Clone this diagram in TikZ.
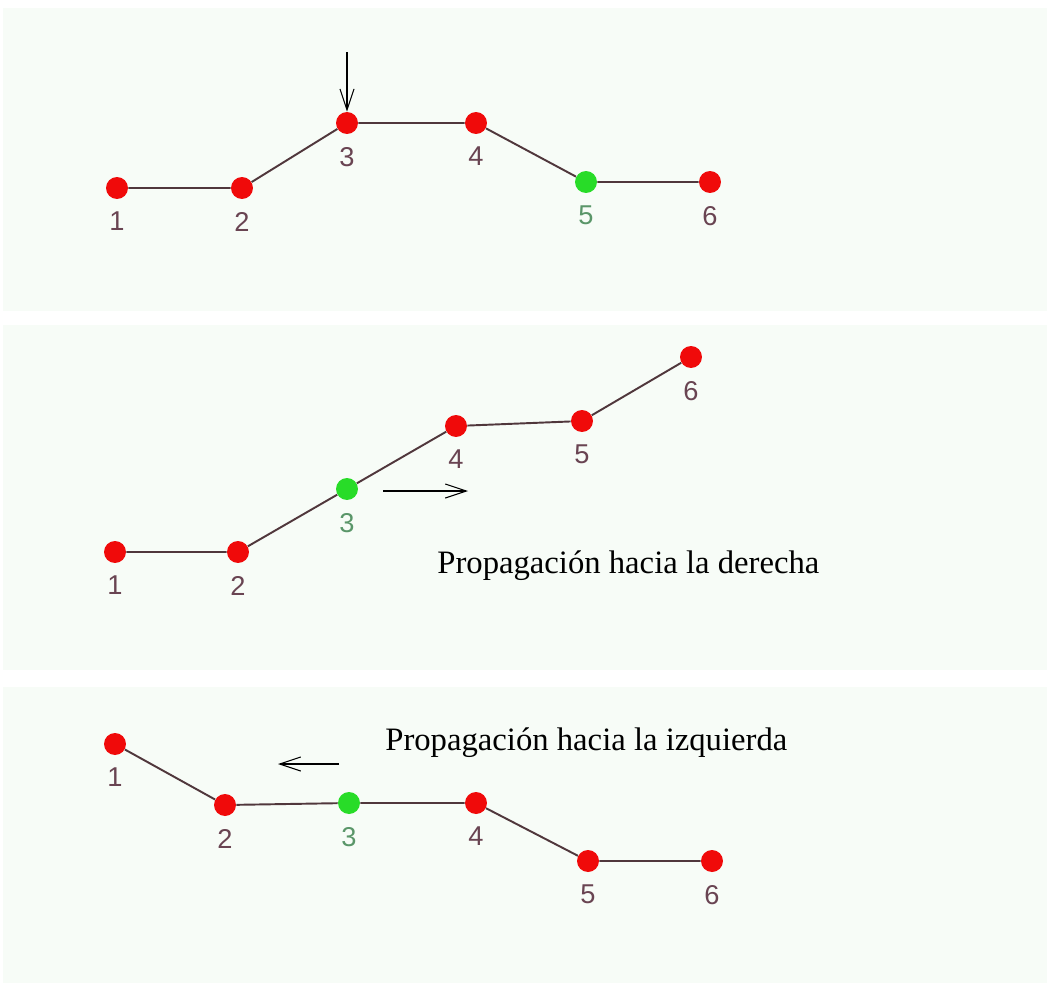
\documentclass[tikz,border=0pt]{standalone}
\usepackage{fontspec}
\setmainfont{Liberation Serif}
\setsansfont{Liberation Sans}
\usepackage{tikz}
\usetikzlibrary{arrows.meta,positioning}
\definecolor{panelbg}{RGB}{247,252,247}
\definecolor{dotred}{RGB}{240,10,10}
\definecolor{dotgreen}{RGB}{40,220,40}
\definecolor{linkcol}{RGB}{80,55,60}
\definecolor{numred}{RGB}{105,68,82}
\definecolor{numgreen}{RGB}{90,150,105}

\begin{document}
\begin{tikzpicture}[
      x=0.02cm, y=-0.02cm,
      panel/.style={fill=panelbg, draw=none},
      dot/.style={circle, fill=dotred, inner sep=0pt, minimum size=12.5pt},
      gdot/.style={dot, fill=dotgreen},
      num/.style={font=\sffamily\fontsize{15.5}{16}\selectfont, text=numred, inner sep=1pt},
      gnum/.style={num, text=numgreen},
      every label/.style={num},
      label distance=6pt,
      link/.style={draw=linkcol, line width=1.1pt},
      arr/.style={-{Straight Barb[length=12pt,width=8pt]}, line width=0.6pt, black},
      caption/.style={font=\fontsize{18.6}{22}\selectfont, anchor=base west, inner sep=0pt},
    ]
    \useasboundingbox (0,0) rectangle (1047,985);

    % Panels
    \fill[panel] (3,8)   rectangle (1047,311);
    \fill[panel] (3,325) rectangle (1047,670);
    \fill[panel] (3,687) rectangle (1047,983);

    % Panel 1: pulse arrives at node 3
    \node[dot,  label=below:1] (a1) at (117,188) {};
    \node[dot,  label=below:2] (a2) at (242,188) {};
    \node[dot,  label=below:3] (a3) at (347,123) {};
    \node[dot,  label=below:4] (a4) at (476,123) {};
    \node[gdot, label={[gnum]below:5}] (a5) at (586,182) {};
    \node[dot,  label=below:6] (a6) at (710,182) {};
    \coordinate (hit) at (347,52);

    \draw[link] (a1) -- (a2) -- (a3) -- (a4) -- (a5) -- (a6);
    \draw[arr] (hit) -- (a3);

    % Panel 2: propagation to the right
    \node[dot,  label=below:1] (b1) at (115,552) {};
    \node[dot,  label=below:2] (b2) at (238,552) {};
    \node[gdot, label={[gnum]below:3}] (b3) at (347,489) {};
    \node[dot,  label=below:4] (b4) at (456,426) {};
    \node[dot,  label=below:5] (b5) at (582,421) {};
    \node[dot,  label=below:6] (b6) at (691,357) {};
    \coordinate (rfrom) at (383,491);
    \coordinate (rto)   at (468,491);

    \draw[link] (b1) -- (b2) -- (b3) -- (b4) -- (b5) -- (b6);
    \draw[arr] (rfrom) -- (rto);
    \node[caption] (rtext) at (437,573) {Propagaci\'on hacia la derecha};

    % Panel 3: propagation to the left
    \node[dot,  label=below:1] (c1) at (115,744) {};
    \node[dot,  label=below:2] (c2) at (225,805) {};
    \node[gdot, label={[gnum]below:3}] (c3) at (349,803) {};
    \node[dot,  label=below:4] (c4) at (476,803) {};
    \node[dot,  label=below:5] (c5) at (588,861) {};
    \node[dot,  label=below:6] (c6) at (712,861) {};
    \coordinate (lfrom) at (339,764);
    \coordinate (lto)   at (278,764);

    \draw[link] (c1) -- (c2) -- (c3) -- (c4) -- (c5) -- (c6);
    \draw[arr] (lfrom) -- (lto);
    \node[caption] (ltext) at (385,750) {Propagaci\'on hacia la izquierda};
  \end{tikzpicture}
\end{document}
